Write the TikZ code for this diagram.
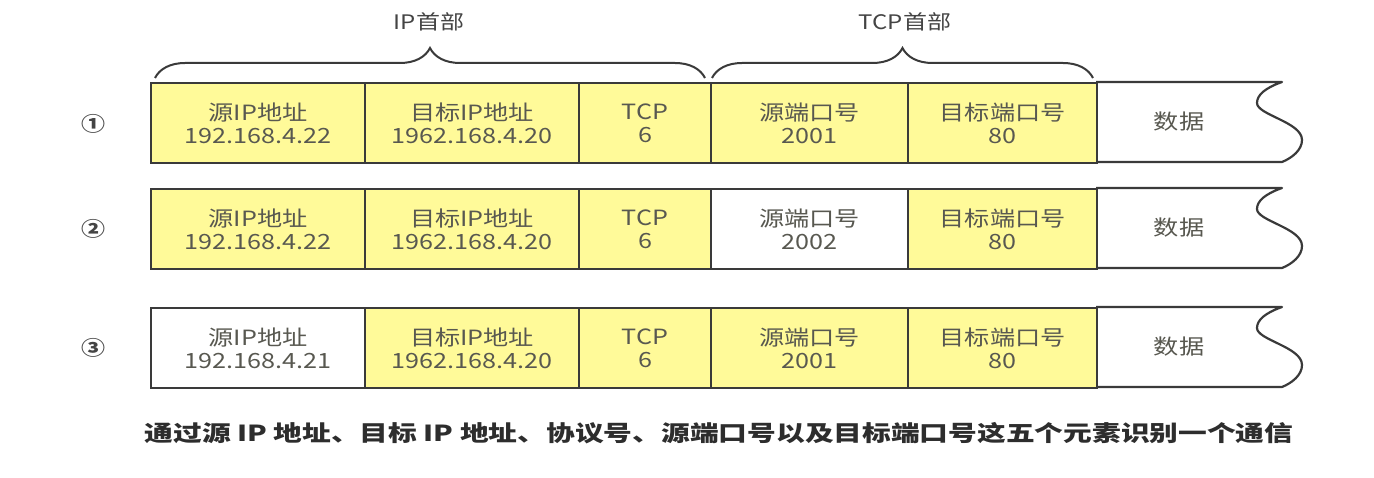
\documentclass[tikz,border=0pt]{standalone}
\usepackage{fontspec}
\setmainfont[FakeStretch=1.2]{Noto Sans CJK SC}
\newfontfamily\summaryfont[FakeStretch=1.3]{Noto Sans CJK SC}
\usetikzlibrary{decorations.pathreplacing}
\definecolor{cellyellow}{RGB}{255,250,153}
\definecolor{linegray}{RGB}{58,58,58}
\definecolor{txtgray}{RGB}{88,88,80}
\definecolor{headgray}{RGB}{68,68,68}
\definecolor{bottomgray}{RGB}{45,45,45}
\tikzset{
  cellbox/.style={draw=linegray, line width=2.2pt, minimum height=80pt, inner sep=0pt,
    align=center, anchor=north west, text=txtgray, font=\fontsize{21}{23}\selectfont},
  yel/.style={fill=cellyellow},
  wht/.style={fill=white},
  datatext/.style={text=txtgray, font=\fontsize{21}{23}\selectfont, inner sep=0pt},
  rownum/.style={text=headgray, font=\bfseries\fontsize{20}{20}\selectfont, inner sep=0pt},
  headlabel/.style={text=headgray, font=\fontsize{20}{22}\selectfont, inner sep=0pt},
  hbrace/.style={draw=linegray, line width=2pt, decorate, decoration={brace, amplitude=30pt}},
  dataline/.style={draw=linegray, line width=2.2pt, line join=round},
}
\newcommand\packetrow[6]{%
  \node[cellbox, #3, minimum width=214pt] (#1a) at (150,#2) {源IP地址\\#4};
  \node[cellbox, yel, minimum width=214pt] (#1b) at (364,#2) {目标IP地址\\1962.168.4.20};
  \node[cellbox, yel, minimum width=132pt] (#1c) at (578,#2) {TCP\\6};
  \node[cellbox, #5, minimum width=197pt] (#1d) at (710,#2) {源端口号\\#6};
  \node[cellbox, yel, minimum width=189pt] (#1e) at (907,#2) {目标端口号\\80};
  \coordinate (#1tl) at (1096,#2);
  \coordinate (#1tr) at (1282,#2);
  \coordinate (#1br) at (1282,#2+80);
  \coordinate (#1bl) at (1096,#2+80);
  \draw[dataline] (#1tl) -- (#1tr)
     .. controls ++(-17,6) and ++(0,-8) .. ++(-25,21)
     .. controls ++(0,12) and ++(0,-18) .. ++(45,37)
     .. controls ++(0,10) and ++(10,-4) .. (#1br) -- (#1bl);
  \node[datatext] (#1data) at (1179,#2+40) {数据};
}
\begin{document}
\begin{tikzpicture}[x=1pt, y=-1pt]
\useasboundingbox[fill=white] (0,0) rectangle (1374,478);
% braces and labels
\coordinate (ipL) at (155,78);
\coordinate (ipR) at (705,78);
\coordinate (tcpL) at (712,78);
\coordinate (tcpR) at (1093,78);
\draw[hbrace] (ipL) -- (ipR);
\draw[hbrace] (tcpL) -- (tcpR);
\node[headlabel] (iphead) at (429,22) {IP首部};
\node[headlabel] (tcphead) at (905,22) {TCP首部};
% rows
\packetrow{r1}{82}{yel}{192.168.4.22}{yel}{2001}
\packetrow{r2}{188}{yel}{192.168.4.22}{wht}{2002}
\packetrow{r3}{307}{wht}{192.168.4.21}{yel}{2001}
\node[rownum] (n1) at (93,124) {①};
\node[rownum] (n2) at (93,229) {②};
\node[rownum] (n3) at (93,348) {③};
% summary
\node[text=bottomgray, font=\summaryfont\bfseries\fontsize{22.1}{24}\selectfont, inner sep=0pt] (summary) at (719,433)
  {通过源 IP 地址、目标 IP 地址、协议号、源端口号以及目标端口号这五个元素识别一个通信};
\end{tikzpicture}
\end{document}
